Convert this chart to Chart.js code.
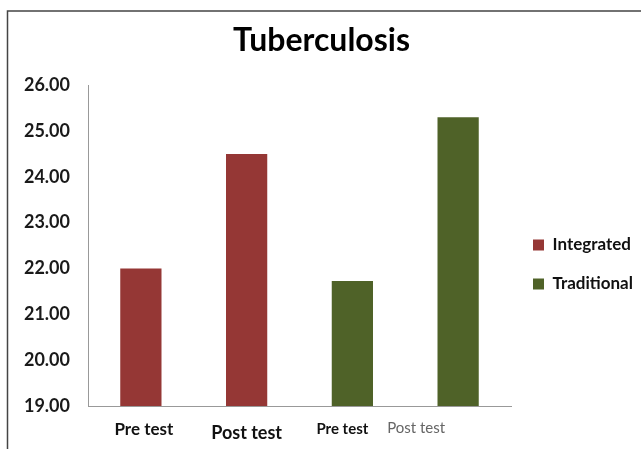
<!DOCTYPE html>
<html>
<head>
<meta charset="utf-8">
<script src="https://cdn.jsdelivr.net/npm/chart.js@4.4.1/dist/chart.umd.min.js"></script>
<style>
  html, body { margin: 0; padding: 0; background: #fff; }
  #wrap { width: 641px; height: 449px; }
</style>
</head>
<body>
<div id="wrap"><canvas id="tb-chart" width="641" height="449"></canvas></div>
<script>
const categories = ["Pre test", "Post test", "Pre test", "Post test"];
const integratedValues = [22.0, 24.5, null, null];
const traditionalValues = [null, null, 21.73, 25.3];
const seriesNames = ["Integrated", "Traditional"];
const yMin = 19;
const yMax = 26;

// each x label in the picture has its own look and a small shift
const xLabelStyles = [
    { font: "bold 17px Lato", color: "#111", dx: 3, dy: 29 },
    { font: "bold 18px Lato", color: "#111", dx: 0, dy: 33 },
    { font: "bold 15px Lato", color: "#111", dx: -10, dy: 28 },
    { font: "15px Lato", color: "#666", dx: -42, dy: 27 }
];

// work out right padding so the legend squares sit where they should
const legendFont = "bold 17px Lato";
const measureCtx = document.createElement("canvas").getContext("2d");
measureCtx.font = legendFont;
const legendTextW = Math.max(...seriesNames.map(s => measureCtx.measureText(s).width));
const legendPad = 22;
const legendWidth = legendPad + 11 + 8.5 + legendTextW + 10;
const rightPad = 130 - legendWidth;

const framePlugin = {
    id: "frame",
    beforeDraw(chart) {
        const ctx = chart.ctx;
        ctx.save();
        ctx.fillStyle = "#fff";
        ctx.fillRect(0, 0, chart.width, chart.height);
        ctx.restore();
    },
    afterDraw(chart) {
        const ctx = chart.ctx;
        ctx.save();
        ctx.strokeStyle = "#444";
        ctx.lineWidth = 1.5;
        ctx.beginPath();
        ctx.moveTo(7.5, chart.height);
        ctx.lineTo(7.5, 11);
        ctx.lineTo(chart.width, 11);
        ctx.stroke();

        // x category labels
        const xs = chart.scales.x;
        const bottom = chart.chartArea.bottom;
        ctx.textAlign = "center";
        ctx.textBaseline = "alphabetic";
        categories.forEach((c, i) => {
            const st = xLabelStyles[i];
            ctx.font = st.font;
            ctx.fillStyle = st.color;
            ctx.fillText(c, xs.getPixelForValue(i) + st.dx, bottom + st.dy);
        });
        ctx.restore();
    }
};

new Chart("tb-chart", {
    type: "bar",
    data: {
        labels: categories,
        datasets: [{
            label: seriesNames[0],
            data: integratedValues,
            backgroundColor: "#953735",
            borderWidth: 0,
            grouped: false
        }, {
            label: seriesNames[1],
            data: traditionalValues,
            backgroundColor: "#4F6228",
            borderWidth: 0,
            grouped: false
        }]
    },
    options: {
        responsive: false,
        animation: false,
        devicePixelRatio: 1,
        layout: { padding: { top: 0, left: 0, bottom: 0, right: rightPad } },
        categoryPercentage: 1,
        barPercentage: 0.39,
        plugins: {
            title: {
                display: true,
                text: "Tuberculosis",
                color: "#000",
                font: { family: "Lato", size: 32, weight: "bold", lineHeight: 1.1 },
                padding: { top: 23, bottom: 27 }
            },
            legend: {
                position: "right",
                title: { display: true, text: " ", padding: 32.8, font: { size: 12 } },
                labels: {
                    boxWidth: 11,
                    boxHeight: 11,
                    padding: legendPad,
                    color: "#111",
                    font: { family: "Lato", size: 17, weight: "bold" }
                }
            },
            tooltip: { enabled: false }
        },
        scales: {
            x: {
                grid: { display: false },
                border: { display: true, color: "#999", width: 1 },
                ticks: { display: false },
                afterFit: s => { s.height = 43; }
            },
            y: {
                min: yMin,
                max: yMax,
                grid: { display: false },
                border: { display: true, color: "#999", width: 1 },
                ticks: {
                    stepSize: 1,
                    padding: 10,
                    color: "#1a1a1a",
                    font: { family: "Lato", size: 18, weight: "bold" },
                    callback: v => Number(v).toFixed(2)
                },
                afterFit: s => { s.width = 88; }
            }
        }
    },
    plugins: [framePlugin]
});
</script>
</body>
</html>
